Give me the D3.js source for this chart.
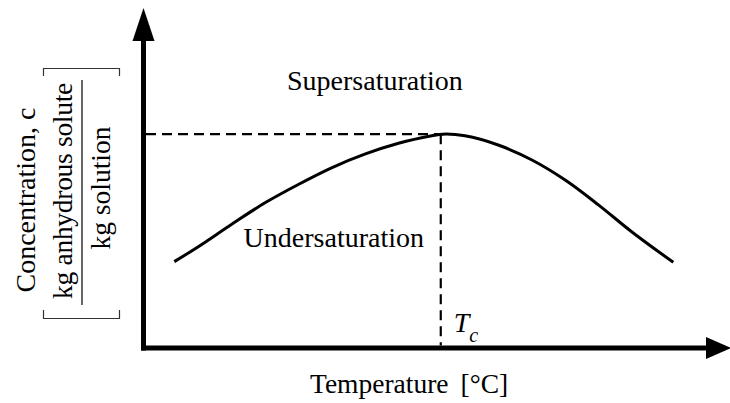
<!DOCTYPE html>
<html>
<head>
<meta charset="utf-8">
<script src="https://cdn.jsdelivr.net/npm/d3@7"></script>
<style>
  html, body { margin: 0; padding: 0; background: #fff; }
  svg { display: block; }
</style>
</head>
<body>
<svg id="chart" width="730" height="403"></svg>
<script>
// Solubility curve: temperature (relative units) vs. concentration (relative units)
const temperature = [5.47, 9.73, 15.67, 21.58, 27.5, 33.4, 39.3, 45.3, 51.2, 53.2, 57.1, 63.0, 69.0, 74.9, 80.8, 86.7, 94.1];
const concentration = [25.4, 29.8, 36.4, 42.7, 48.1, 53.0, 57.0, 60.2, 62.4, 62.9, 62.4, 59.7, 55.3, 49.4, 42.1, 34.2, 25.2];

// Critical temperature and the saturation maximum
const Tc = 52.8;
const cMax = 62.9;

// Region labels
const regionLabels = [
  { text: "Supersaturation", t: 41.1, c: 75.9 },
  { text: "Undersaturation", t: 33.8, c: 29.7 }
];

const FONT = "'Liberation Serif', 'Times New Roman', Times, 'DejaVu Serif', serif";

const svg = d3.select("#chart");

const x = d3.scaleLinear().domain([0, 100]).range([143.5, 706.5]);
const y = d3.scaleLinear().domain([0, 100]).range([348, 8]);

const axisW = 5;

// Axes with arrowheads
svg.append("line")
  .attr("x1", x(0)).attr("x2", x(0))
  .attr("y1", y(0) + axisW / 2).attr("y2", 40)
  .attr("stroke", "#000").attr("stroke-width", axisW);
svg.append("path")
  .attr("d", `M${x(0)},8 L${x(0) - 11},41 L${x(0) + 11},41 Z`)
  .attr("fill", "#000");

svg.append("line")
  .attr("x1", x(0) - axisW / 2).attr("x2", 707)
  .attr("y1", y(0)).attr("y2", y(0))
  .attr("stroke", "#000").attr("stroke-width", axisW);
svg.append("path")
  .attr("d", `M731,${y(0)} L706,${y(0) - 11} L706,${y(0) + 11} Z`)
  .attr("fill", "#000");

// Dashed guide lines to the maximum
svg.append("line")
  .attr("x1", x(0) + axisW / 2).attr("x2", x(Tc))
  .attr("y1", y(cMax)).attr("y2", y(cMax))
  .attr("stroke", "#000").attr("stroke-width", 2.2)
  .attr("stroke-dasharray", "10,6");
svg.append("line")
  .attr("x1", x(Tc)).attr("x2", x(Tc))
  .attr("y1", y(cMax)).attr("y2", y(0) - axisW / 2)
  .attr("stroke", "#000").attr("stroke-width", 2.2)
  .attr("stroke-dasharray", "10,6");

// Solubility curve
const pts = temperature.map((t, i) => [t, concentration[i]]);
const line = d3.line()
  .x(d => x(d[0]))
  .y(d => y(d[1]))
  .curve(d3.curveCatmullRom.alpha(0.5));
svg.append("path")
  .datum(pts)
  .attr("d", line)
  .attr("fill", "none")
  .attr("stroke", "#000")
  .attr("stroke-width", 3);

// Region labels
svg.selectAll("text.region")
  .data(regionLabels)
  .enter().append("text")
  .attr("class", "region")
  .attr("x", d => x(d.t))
  .attr("y", d => y(d.c))
  .attr("text-anchor", "middle")
  .attr("font-family", FONT)
  .attr("font-size", 28)
  .text(d => d.text);

// T_c label
const tcLabel = svg.append("text")
  .attr("x", x(Tc) + 13)
  .attr("y", 332)
  .attr("font-family", FONT)
  .attr("font-size", 28)
  .attr("font-style", "italic");
tcLabel.append("tspan").text("T");
tcLabel.append("tspan")
  .attr("font-size", 20)
  .attr("dy", 10)
  .text("c");

// X axis title
const xt = svg.append("text")
  .attr("x", 310)
  .attr("y", 393)
  .attr("font-family", FONT)
  .attr("font-size", 27.5);
xt.append("tspan").text("Temperature");
xt.append("tspan").attr("dx", 12).text("[°C]");

// Y axis title: "Concentration, c" and the unit fraction in brackets
const yCenter = 191;
svg.append("text")
  .attr("transform", `translate(35,200) rotate(-90)`)
  .attr("text-anchor", "middle")
  .attr("font-family", FONT)
  .attr("font-size", 28)
  .text("Concentration, c");
svg.append("text")
  .attr("transform", `translate(72,${yCenter}) rotate(-90)`)
  .attr("text-anchor", "middle")
  .attr("font-family", FONT)
  .attr("font-size", 27.5)
  .attr("letter-spacing", -0.3)
  .text("kg anhydrous solute");
svg.append("line")
  .attr("x1", 82).attr("x2", 82)
  .attr("y1", 80).attr("y2", 305)
  .attr("stroke", "#000").attr("stroke-width", 1.2);
svg.append("text")
  .attr("transform", `translate(110,${yCenter - 3}) rotate(-90)`)
  .attr("text-anchor", "middle")
  .attr("font-family", FONT)
  .attr("font-size", 27.5)
  .text("kg solution");

// Brackets around the unit
const bracket = d3.line();
svg.append("path")
  .attr("d", bracket([[43.5, 76], [43.5, 68.5], [119.5, 68.5], [119.5, 76]]))
  .attr("fill", "none").attr("stroke", "#333").attr("stroke-width", 1.2);
svg.append("path")
  .attr("d", bracket([[43.5, 310], [43.5, 318.5], [119.5, 318.5], [119.5, 310]]))
  .attr("fill", "none").attr("stroke", "#333").attr("stroke-width", 1.2);
</script>
</body>
</html>
